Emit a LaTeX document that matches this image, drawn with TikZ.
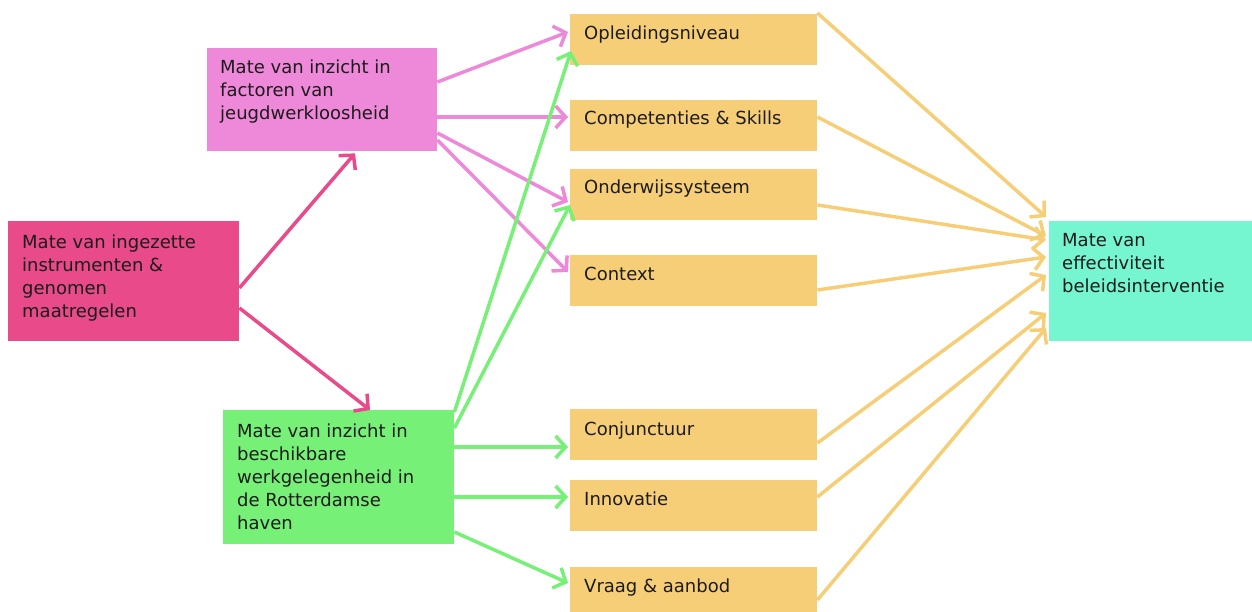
\documentclass[tikz,border=0pt]{standalone}
\usepackage{fontspec}
\setmainfont{DejaVu Sans}
\usetikzlibrary{arrows.meta,calc}
\definecolor{cmi}{HTML}{E84A8A}
\definecolor{cfi}{HTML}{EE88D8}
\definecolor{cwg}{HTML}{77F077}
\definecolor{cor}{HTML}{F7CE78}
\definecolor{cte}{HTML}{76F6D0}
\definecolor{ctx}{HTML}{1C1C1C}
\tikzset{
  box/.style={draw=none, anchor=north west, inner sep=0pt, minimum height=#1},
  box/.default=51pt,
  obox/.style={box=51pt, fill=cor, minimum width=247pt},
  txt/.style={anchor=base west, inner sep=0pt, align=left, text=ctx,
    font=\fontsize{18}{23}\selectfont},
  conn/.style={line width=3.5pt, -{Straight Barb[length=10pt,width=22pt,line width=3.5pt]}},
}
\begin{document}
\begin{tikzpicture}[x=1pt,y=-1pt]
\useasboundingbox (0,0) rectangle (1252,612);
% boxes
\node[box=120pt, fill=cmi, minimum width=231pt] (mi) at (8,221) {};
\node[box=103pt, fill=cfi, minimum width=230pt] (fi) at (207,48) {};
\node[box=134pt, fill=cwg, minimum width=231pt] (wg) at (223,410) {};
\node[obox] (o1) at (570,14) {};
\node[obox] (o2) at (570,100) {};
\node[obox] (o3) at (570,169) {};
\node[obox] (o4) at (570,255) {};
\node[obox] (o5) at (570,409) {};
\node[obox] (o6) at (570,480) {};
\node[obox, minimum height=45pt] (o7) at (570,567) {};
\node[box=120pt, fill=cte, minimum width=203pt] (te) at (1049,221) {};
% texts (base anchor = baseline of the last line)
\node[txt] (tmi) at ($(mi.north west)+(14,96)$) {Mate van ingezette\\instrumenten \&\\genomen\\maatregelen};
\node[txt] (tfi) at ($(fi.north west)+(13,72)$) {Mate van inzicht in\\factoren van\\jeugdwerkloosheid};
\node[txt] (twg) at ($(wg.north west)+(14,119)$) {Mate van inzicht in\\beschikbare\\werkgelegenheid in\\de Rotterdamse\\haven};
\node[txt] (t1) at ($(o1.north west)+(14,26)$) {Opleidingsniveau};
\node[txt] (t2) at ($(o2.north west)+(14,25)$) {Competenties \& Skills};
\node[txt] (t3) at ($(o3.north west)+(14,25)$) {Onderwijssysteem};
\node[txt] (t4) at ($(o4.north west)+(14,25)$) {Context};
\node[txt] (t5) at ($(o5.north west)+(14,26)$) {Conjunctuur};
\node[txt] (t6) at ($(o6.north west)+(14,25)$) {Innovatie};
\node[txt] (t7) at ($(o7.north west)+(14,25)$) {Vraag \& aanbod};
\node[txt] (tte) at ($(te.north west)+(13,71)$) {Mate van\\effectiviteit\\beleidsinterventie};
% dark pink connectors
\draw[conn, cmi] ($(mi.north east)+(0,67)$) -- ($(fi.south west)+(148,2)$);
\draw[conn, cmi] ($(mi.north east)+(0,87)$) -- ($(wg.north west)+(147,0)$);
% light pink connectors
\draw[conn, cfi] ($(fi.north east)+(0,34)$) -- ($(o1.north west)+(-2,18)$);
\draw[conn, cfi] ($(fi.north east)+(0,69)$) -- ($(o2.north west)+(-2,17)$);
\draw[conn, cfi] ($(fi.north east)+(0,85)$) -- ($(o3.north west)+(-2,33)$);
\draw[conn, cfi] ($(fi.north east)+(0,92)$) -- ($(o4.north west)+(-2,17)$);
% green connectors
\draw[conn, cwg] ($(wg.north east)+(0,2)$) -- ($(o1.north west)+(1,37)$);
\draw[conn, cwg] ($(wg.north east)+(0,18)$) -- ($(o3.north west)+(0,36)$);
\draw[conn, cwg] ($(wg.north east)+(0,37)$) -- ($(o5.north west)+(-2,38)$);
\draw[conn, cwg] ($(wg.north east)+(0,87)$) -- ($(o6.north west)+(-2,17)$);
\draw[conn, cwg] ($(wg.north east)+(0,122)$) -- ($(o7.north west)+(-2,16)$);
% orange connectors
\draw[conn, cor] ($(o1.north east)+(0,-1)$) -- ($(te.north west)+(-3,-4)$);
\draw[conn, cor] ($(o2.north east)+(0,17)$) -- ($(te.north west)+(-3,15)$);
\draw[conn, cor] ($(o3.north east)+(0,36)$) -- ($(te.north west)+(-3,19)$);
\draw[conn, cor] ($(o4.north east)+(0,35)$) -- ($(te.north west)+(-3,36)$);
\draw[conn, cor] ($(o5.north east)+(0,34)$) -- ($(te.north west)+(-3,54)$);
\draw[conn, cor] ($(o6.north east)+(0,17)$) -- ($(te.north west)+(-3,92)$);
\draw[conn, cor] ($(o7.north east)+(0,33)$) -- ($(te.north west)+(-3,107)$);
\end{tikzpicture}
\end{document}
